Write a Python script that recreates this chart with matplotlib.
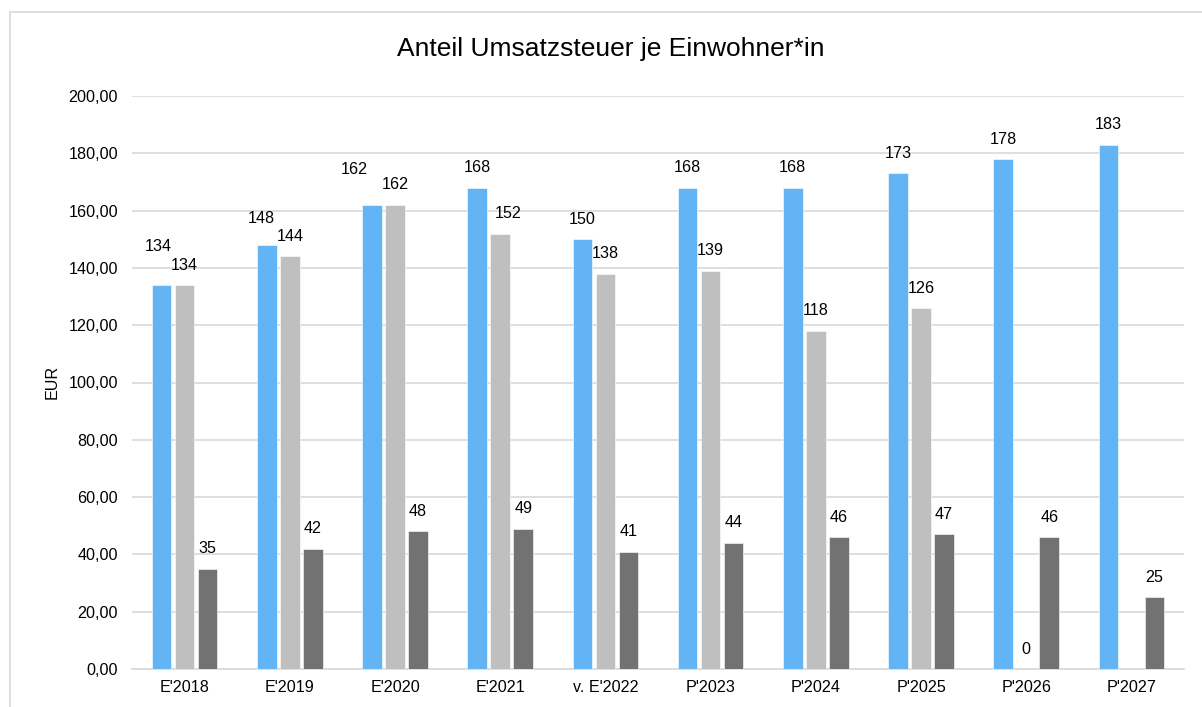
import numpy as np
import matplotlib.pyplot as plt
from matplotlib.patches import Rectangle

plt.rcParams['font.family'] = ['Liberation Sans', 'DejaVu Sans']

categories = ["E'2018", "E'2019", "E'2020", "E'2021", "v. E'2022",
              "P'2023", "P'2024", "P'2025", "P'2026", "P'2027"]
blue_vals = [134, 148, 162, 168, 150, 168, 168, 173, 178, 183]
light_vals = [134, 144, 162, 152, 138, 139, 118, 126, 0, np.nan]
dark_vals = [35, 42, 48, 49, 41, 44, 46, 47, 46, 25]
y_ticks = [0, 20, 40, 60, 80, 100, 120, 140, 160, 180, 200]

series = [blue_vals, light_vals, dark_vals]
colors = ['#63B4F5', '#BFBFBF', '#727272']

# label nudges (pixels, dx / extra dy) where the labels were moved by hand
label_nudge = {(0, 0): (-3, 19), (0, 1): (-5, 6), (0, 2): (-18, 15), (1, 3): (8, 0)}

fig = plt.figure(figsize=(12.02, 7.07), dpi=100)
ax = fig.add_axes([132 / 1202, 1 - 669 / 707, (1184 - 132) / 1202, (669 - 96) / 707])

x = np.arange(len(categories))
pitch = 0.2186
for s, (vals, col) in enumerate(zip(series, colors)):
    xs = x + (s - 1) * pitch
    ax.bar(xs, vals, width=0.185, color=col, edgecolor='white', linewidth=0.4, zorder=3)
    for i, v in enumerate(vals):
        if np.isnan(v):
            continue
        dx, dy = label_nudge.get((s, i), (0, 0))
        ax.annotate(f"{v:.0f}", (xs[i], v), xytext=(dx * 0.72, (20 + dy) * 0.72),
                    textcoords='offset points', ha='center', va='center',
                    fontsize=11.6, color='#000000', zorder=4)

ax.set_xlim(-0.5, len(categories) - 0.5)
ax.set_ylim(0, 200)
ax.set_yticks(y_ticks)
ax.set_yticklabels([f"{t:.2f}".replace('.', ',') for t in y_ticks], fontsize=11.6)
ax.set_xticks(x)
ax.set_xticklabels(categories, fontsize=11.6)
ax.tick_params(length=0, pad=8)
ax.tick_params(axis='y', pad=10)
ax.grid(axis='y', color='#D9D9D9', linewidth=1.2, zorder=0)
for sp in ['top', 'right', 'left']:
    ax.spines[sp].set_visible(False)
ax.spines['bottom'].set_color('#D9D9D9')
ax.spines['bottom'].set_linewidth(1.2)
ax.spines['bottom'].set_zorder(2)

fig.text(52 / 1202, 1 - 382 / 707, 'EUR', rotation=90, ha='center', va='center', fontsize=11.6)
fig.text(611 / 1202, 1 - 49 / 707, 'Anteil Umsatzsteuer je Einwohner*in',
         ha='center', va='center', fontsize=19)

fig.patches.append(Rectangle((10 / 1202, -0.05), 1.0, 1 - 12 / 707 + 0.05,
                             transform=fig.transFigure, fill=False,
                             edgecolor='#D9D9D9', linewidth=1.2))

fig.savefig('out.png', dpi=100)
